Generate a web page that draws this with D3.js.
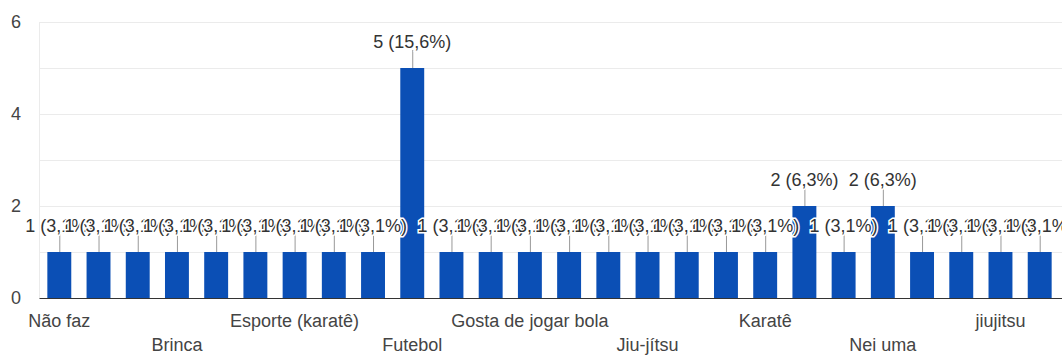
<!DOCTYPE html>
<html>
<head>
<meta charset="utf-8">
<script src="https://cdn.jsdelivr.net/npm/d3@7"></script>
<style>
  html, body { margin: 0; padding: 0; background: #fff; }
  svg { display: block; font-family: "Liberation Sans", Arial, sans-serif; }
</style>
</head>
<body>
<svg id="chart" width="1062" height="355"></svg>
<script>
// Responses per activity
const categories = [
  "Não faz", "Balé", "Basquete", "Brinca", "Capoeira", "Dança",
  "Esporte (karatê)", "Faz judô", "Faz natação", "Futebol", "Futebol e vôlei", "Ginástica",
  "Gosta de jogar bola", "Handebol", "Jiu jitsu", "Jiu-jítsu", "Jogar bola", "Judô",
  "Karatê", "Natação", "Natação e judô", "Nei uma", "Vôlei", "Xadrez",
  "jiujitsu", "nada"
];
const counts = [
  1, 1, 1, 1, 1, 1,
  1, 1, 1, 5, 1, 1,
  1, 1, 1, 1, 1, 1,
  1, 2, 1, 2, 1, 1,
  1, 1
];
const total = 32;
const yTicks = [0, 2, 4, 6];
const yGrid = [1, 2, 3, 4, 5, 6];

const svg = d3.select("#chart");
const margin = { top: 22, left: 39.5, bottom: 298 };
const plotRight = 1059.5;

const x = d3.scaleBand()
  .domain(categories)
  .range([margin.left, plotRight])
  .paddingInner(0.39)
  .paddingOuter(0.2);

const y = d3.scaleLinear().domain([0, 6]).range([margin.bottom, margin.top]);

// Gridlines
svg.append("g")
  .selectAll("line")
  .data(yGrid)
  .join("line")
  .attr("x1", margin.left).attr("x2", 1062)
  .attr("y1", d => Math.round(y(d)) + 0.5).attr("y2", d => Math.round(y(d)) + 0.5)
  .attr("stroke", "#ebebeb").attr("stroke-width", 1);

svg.append("line")
  .attr("x1", margin.left).attr("x2", margin.left)
  .attr("y1", margin.top).attr("y2", margin.bottom)
  .attr("stroke", "#ebebeb");

// Y tick labels
svg.append("g")
  .selectAll("text")
  .data(yTicks)
  .join("text")
  .attr("x", 21)
  .attr("y", d => y(d) + 6)
  .attr("text-anchor", "end")
  .attr("font-size", 18)
  .attr("fill", "#444")
  .text(d => d);

// Bars
svg.append("g")
  .selectAll("rect")
  .data(categories)
  .join("rect")
  .attr("x", d => x(d))
  .attr("width", x.bandwidth())
  .attr("y", (d, i) => y(counts[i]))
  .attr("height", (d, i) => y(0) - y(counts[i]))
  .attr("fill", "#0b4fb5");

// Baseline
svg.append("line")
  .attr("x1", margin.left).attr("x2", 1062)
  .attr("y1", margin.bottom + 0.5).attr("y2", margin.bottom + 0.5)
  .attr("stroke", "#333").attr("stroke-width", 1.2);

// Leader lines and value annotations
const fmtPct = v => (Math.round(v / total * 1000) / 10).toFixed(1).replace(".", ",");
const ann = svg.append("g");
categories.forEach((c, i) => {
  const cx = x(c) + x.bandwidth() / 2;
  const top = y(counts[i]);
  ann.append("line")
    .attr("x1", cx + 0.5).attr("x2", cx + 0.5)
    .attr("y1", top).attr("y2", top - 18)
    .attr("stroke", "#999").attr("stroke-width", 1);
  ann.append("text")
    .attr("x", cx)
    .attr("y", top - 20)
    .attr("text-anchor", "middle")
    .attr("font-size", 18)
    .attr("fill", "#333")
    .attr("stroke", "#fff")
    .attr("stroke-width", 3)
    .attr("paint-order", "stroke")
    .text(`${counts[i]} (${fmtPct(counts[i])}%)`);
});

// Category labels: every third one, alternating between two rows
svg.append("g")
  .selectAll("text")
  .data(categories.filter((d, i) => i % 3 === 0))
  .join("text")
  .attr("x", d => x(d) + x.bandwidth() / 2)
  .attr("y", (d, k) => k % 2 === 0 ? 327 : 351)
  .attr("text-anchor", "middle")
  .attr("font-size", 18)
  .attr("fill", "#444")
  .text(d => d);
</script>
</body>
</html>
